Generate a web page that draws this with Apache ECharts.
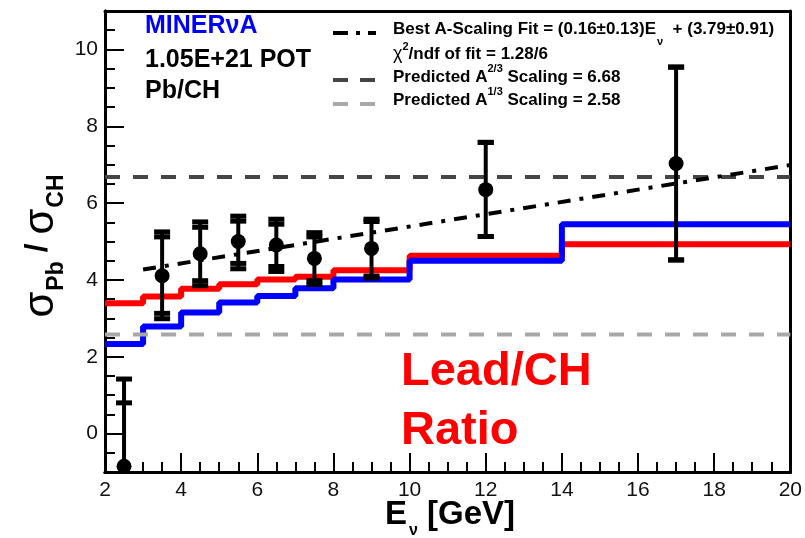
<!DOCTYPE html>
<html>
<head>
<meta charset="utf-8">
<script src="https://cdn.jsdelivr.net/npm/echarts@6/dist/echarts.min.js"></script>
<style>
html,body{margin:0;padding:0;background:#fff;}
#chart{width:805px;height:538px;}
</style>
</head>
<body>
<div id="chart"></div>
<script>
// ---- data ----
const binEdges = [2, 3, 4, 5, 6, 7, 8, 10, 14, 20];
const leadVals = [3.39, 3.57, 3.77, 3.89, 4.01, 4.08, 4.25, 4.63, 4.93];   // red
const blueVals = [2.33, 2.79, 3.15, 3.41, 3.58, 3.78, 4.01, 4.50, 5.45];   // blue

const pointX = [2.5, 3.5, 4.5, 5.5, 6.5, 7.5, 9, 12, 17];
const pointY = [-0.85, 4.11, 4.68, 5.00, 4.91, 4.56, 4.82, 6.35, 7.03];
const statHi = [0.80, 5.12, 5.37, 5.53, 5.45, 5.12, 5.52, 7.58, 9.54];
const totHi  = [1.42, 5.25, 5.51, 5.66, 5.58, 5.23, 5.58, 7.58, 9.54];
const statLo = [-2.5, 3.13, 3.98, 4.43, 4.35, 3.98, 4.10, 5.13, 4.52];
const totLo  = [-3.1, 2.99, 3.85, 4.29, 4.22, 3.88, 4.05, 5.13, 4.52];

const fitX = [3, 20];
const fitY = [4.27, 6.99];
const scaleA23 = 6.68;
const scaleA13 = 2.58;

const yMajorTicks = [0, 2, 4, 6, 8, 10];

// ---- helpers ----
const FONT = '"Liberation Sans", Arial, sans-serif';
const mctx = document.createElement('canvas').getContext('2d');
function measure(p) {
  mctx.font = (p.w || 'bold') + ' ' + p.s + 'px ' + FONT;
  return mctx.measureText(p.t).width;
}
function pieces(x0, y0, parts, color) {
  let x = x0; const out = [];
  for (const p of parts) {
    x += (p.dx || 0);
    const font = (p.w || 'bold') + ' ' + p.s + 'px ' + FONT;
    out.push({
      type: 'text', x: x, y: y0 + (p.dy || 0), silent: true,
      style: { text: p.t, font: font, fill: p.c || color || '#000',
        textAlign: 'left', textVerticalAlign: 'middle', align: 'left', verticalAlign: 'middle' }
    });
    x += measure(p);
  }
  return out;
}
function totalWidth(parts) { return parts.reduce((a, p) => a + measure(p) + (p.dx || 0), 0); }

function stepData(vals) {
  const d = vals.map((v, i) => [binEdges[i], v]);
  d.push([binEdges[binEdges.length - 1], vals[vals.length - 1]]);
  return d;
}

const chart = echarts.init(document.getElementById('chart'), null, { renderer: 'canvas' });

const yTitleParts = [
  { t: 'σ', s: 42, w: 'normal' },
  { t: 'Pb', s: 23, dy: 16, dx: 1 },
  { t: ' / ', s: 32, dy: -3 },
  { t: 'σ', s: 42, w: 'normal' },
  { t: 'CH', s: 23, dy: 16, dx: 1 }
];
const yTW = totalWidth(yTitleParts);

const xTitleParts = [
  { t: 'E', s: 33 },
  { t: 'ν', s: 16, dy: 16, dx: 2 },
  { t: ' [GeV]', s: 33 }
];

const graphics = [];
graphics.push({ type: 'group', x: 41, y: 246, rotation: Math.PI / 2, silent: true,
  children: pieces(-yTW / 2, 0, yTitleParts) });
graphics.push(...pieces(385, 515, xTitleParts));
graphics.push(...pieces(145, 26, [{ t: 'MINERνA', s: 25 }], '#0000ff'));
graphics.push(...pieces(145, 60, [{ t: '1.05E+21 POT', s: 25 }]));
graphics.push(...pieces(145, 91, [{ t: 'Pb/CH', s: 25 }]));
graphics.push(...pieces(401, 372, [{ t: 'Lead/CH', s: 47 }], '#ff0000'));
graphics.push(...pieces(401, 431, [{ t: 'Ratio', s: 47 }], '#ff0000'));
const LX = 393;
graphics.push(...pieces(LX, 29, [
  { t: 'Best A-Scaling Fit = (0.16±0.13)E', s: 17 },
  { t: 'ν', s: 11, dy: 13, dx: 1 },
  { t: '  + (3.79±0.91)', s: 17 }
]));
graphics.push(...pieces(LX, 54, [
  { t: 'χ', s: 18, w: 'normal' },
  { t: '2', s: 11, dy: -7 },
  { t: '/ndf of fit = 1.28/6', s: 17 }
]));
graphics.push(...pieces(LX, 77, [
  { t: 'Predicted A', s: 17 },
  { t: '2/3', s: 11, dy: -8 },
  { t: ' Scaling = 6.68', s: 17 }
]));
graphics.push(...pieces(LX, 100, [
  { t: 'Predicted A', s: 17 },
  { t: '1/3', s: 11, dy: -8 },
  { t: ' Scaling = 2.58', s: 17 }
]));
graphics.push({ type: 'line', silent: true, shape: { x1: 333, y1: 33, x2: 376, y2: 33 },
  style: { stroke: '#000', lineWidth: 4, lineDash: [15, 8, 4, 8] } });
graphics.push({ type: 'line', silent: true, shape: { x1: 333, y1: 80, x2: 376, y2: 80 },
  style: { stroke: '#454545', lineWidth: 4, lineDash: [15, 12] } });
graphics.push({ type: 'line', silent: true, shape: { x1: 333, y1: 104, x2: 376, y2: 104 },
  style: { stroke: '#a8a8a8', lineWidth: 4, lineDash: [15, 12] } });

const errData = pointX.map((x, i) => [x, pointY[i], statLo[i], statHi[i], totLo[i], totHi[i]]);

const tickStyle = { color: '#000', width: 2 };
const frameLine = { show: true, onZero: false, lineStyle: { color: '#000', width: 3 } };
const hiddenLabel = { show: true, color: 'rgba(0,0,0,0)', fontSize: 8 };
const option = {
  animation: false,
  backgroundColor: '#fff',
  grid: { left: 105, right: 8, top: 11, bottom: 66 },
  xAxis: [{
    type: 'value', min: 2, max: 20, interval: 0.5, position: 'bottom',
    axisLine: frameLine,
    axisTick: { show: true, inside: true, length: 10, lineStyle: tickStyle },
    axisLabel: hiddenLabel,
    splitLine: { show: false }
  }, {
    type: 'value', min: 2, max: 20, interval: 2, position: 'bottom',
    axisLine: frameLine,
    axisTick: { show: true, inside: true, length: 19, lineStyle: tickStyle },
    axisLabel: { show: true, fontSize: 21, color: '#111', fontFamily: FONT, margin: 8, showMaxLabel: true, showMinLabel: true },
    splitLine: { show: false }
  }, {
    type: 'value', min: 2, max: 20, position: 'top',
    axisLine: frameLine, axisTick: { show: false }, axisLabel: { show: false }, splitLine: { show: false }
  }],
  yAxis: [{
    type: 'value', min: -1, max: 11, interval: 0.5, position: 'left',
    axisLine: frameLine,
    axisTick: { show: true, inside: true, length: 10, lineStyle: tickStyle },
    axisLabel: hiddenLabel,
    splitLine: { show: false }
  }, {
    type: 'value', min: -1, max: 11, position: 'left',
    axisLine: frameLine,
    axisTick: { show: true, inside: true, length: 19, customValues: yMajorTicks, lineStyle: tickStyle },
    axisLabel: { show: true, fontSize: 21, color: '#111', fontFamily: FONT, margin: 7, customValues: yMajorTicks },
    splitLine: { show: false }
  }, {
    type: 'value', min: -1, max: 11, position: 'right',
    axisLine: frameLine, axisTick: { show: false }, axisLabel: { show: false }, splitLine: { show: false }
  }],
  graphic: graphics,
  series: [
    { type: 'line', step: 'end', data: stepData(leadVals), symbol: 'none', silent: true, z: 2,
      lineStyle: { color: '#ff0000', width: 6 } },
    { type: 'line', step: 'end', data: stepData(blueVals), symbol: 'none', silent: true, z: 3,
      lineStyle: { color: '#0000ff', width: 6 } },
    { type: 'line', data: [[binEdges[0], scaleA23], [binEdges[binEdges.length - 1], scaleA23]], symbol: 'none', silent: true, z: 4,
      lineStyle: { color: '#454545', width: 4, type: [15, 13] } },
    { type: 'line', data: [[binEdges[0], scaleA13], [binEdges[binEdges.length - 1], scaleA13]], symbol: 'none', silent: true, z: 4,
      lineStyle: { color: '#a8a8a8', width: 4, type: [15, 13] } },
    { type: 'line', data: fitX.map((x, i) => [x, fitY[i]]), symbol: 'none', silent: true, z: 5,
      lineStyle: { color: '#000', width: 4, type: [13, 9, 4, 9] } },
    { type: 'custom', data: errData, silent: true, z: 10, clip: true,
      renderItem: function (params, api) {
        const cs = params.coordSys;
        const x = api.value(0);
        const clampY = (py) => Math.max(cs.y, Math.min(cs.y + cs.height, py));
        const px = api.coord([x, api.value(1)])[0];
        const ys = [2, 3, 4, 5].map(k => api.coord([x, api.value(k)])[1]);
        const children = [];
        const yTop = clampY(ys[3]), yBot = clampY(ys[2]);
        children.push({ type: 'line', shape: { x1: px, y1: yTop, x2: px, y2: yBot }, style: { stroke: '#000', lineWidth: 4 } });
        ys.forEach(py => {
          if (py >= cs.y - 1 && py <= cs.y + cs.height + 1) {
            children.push({ type: 'rect', shape: { x: px - 8, y: py - 2.5, width: 16, height: 5 }, style: { fill: '#000' } });
          }
        });
        return { type: 'group', children: children };
      }
    },
    { type: 'scatter', data: pointX.map((x, i) => [x, pointY[i]]), symbol: 'circle', symbolSize: 15, silent: true, z: 11, clip: true,
      itemStyle: { color: '#000', opacity: 1 } }
  ]
};
chart.setOption(option);
</script>
</body>
</html>
